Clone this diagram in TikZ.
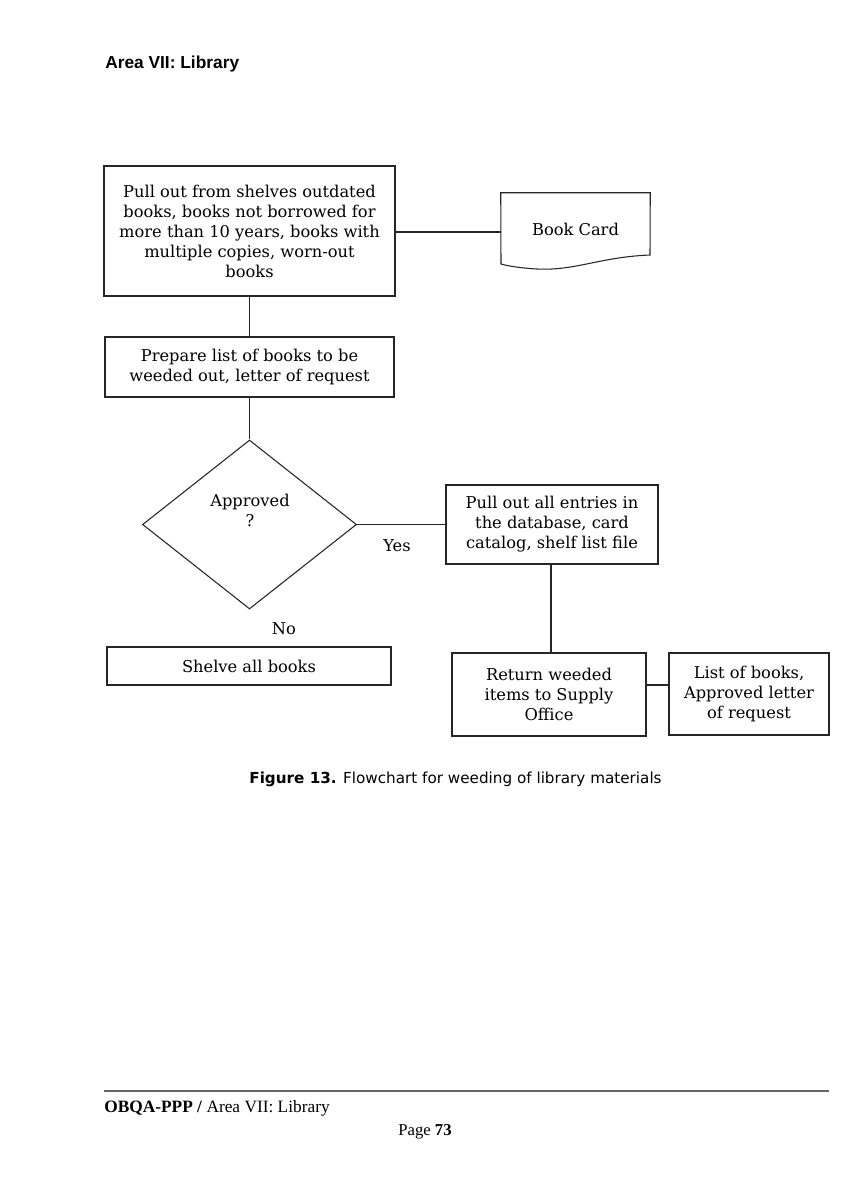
\documentclass[tikz,border=0pt]{standalone}
\usepackage{fontspec}
\setmainfont{DejaVu Serif}
\newfontfamily\headfont{Liberation Sans}
\newfontfamily\capfont{DejaVu Sans}
\newfontfamily\footfont{Liberation Serif}
\usetikzlibrary{shapes.geometric}

\begin{document}
\begin{tikzpicture}[x=0.75pt,y=-0.75pt,
  line/.style={draw=black!85, line width=0.8pt},
  body/.style={font=\fontsize{12.2}{15}\selectfont, align=center},
  box/.style={line, body, rectangle, inner sep=0pt},
  plain/.style={body, inner sep=0pt}
]
% page frame
\useasboundingbox[fill=white] (0,0) rectangle (860,1200);

% running header
\node[anchor=base west, inner sep=0pt, font=\headfont\bfseries\fontsize{13}{15}\selectfont] (head) at (105,68) {Area VII: Library};

% process boxes
\node[box, minimum width=218.25pt, minimum height=97.5pt] (pull) at (249.5,231)
  {Pull out from shelves outdated\\books, books not borrowed for\\more than 10 years, books with\\multiple copies, worn-out\\books};
\node[box, minimum width=216.75pt, minimum height=45pt] (list) at (249.5,367)
  {Prepare list of books to be\\weeded out, letter of request};
\node[box, minimum width=159pt, minimum height=59.25pt] (entries) at (552,524.5)
  {Pull out all entries in\\the database, card\\catalog, shelf list file};
\node[box, minimum width=145.5pt, minimum height=62.25pt] (return) at (549,694.5)
  {Return weeded\\items to Supply\\Office};
\node[box, minimum width=120pt, minimum height=61.5pt] (docs) at (749,694)
  {List of books,\\Approved letter\\of request};
\node[box, minimum width=213pt, minimum height=28.5pt] (shelve) at (249,666)
  {Shelve all books};

% document symbol
\node[plain, minimum width=111.75pt, minimum height=54pt] (card) at (575.5,229) {Book Card};
\draw[line] (card.north west) -- (card.north east) -- (650,255)
  .. controls (600,257) and (575,271) .. (537,269)
  .. controls (520,268) and (508,266) .. (501,264) -- cycle;

% decision
\node[line, diamond, inner sep=0pt, minimum width=160.5pt, minimum height=126.75pt] (ok) at (249.5,524.5) {};
\node[plain] (oktext) at (250,510) {Approved\\?};

% connectors
\draw[line] (pull.east |- 0,232) -- (card.west |- 0,232);
\draw[line] (pull.south) -- (list.north);
\draw[line] (list.south) -- (ok.north);
\draw[line] (ok.east) -- (entries.west |- ok.east);
\draw[line] (entries.south -| 551,0) -- (return.north -| 551,0);
\draw[line] (return.east |- 0,685) -- (docs.west |- 0,685);

% branch labels
\node[plain, anchor=base] (yes) at (397,551) {Yes};
\node[plain, anchor=base] (no) at (284,634) {No};

% caption
\node[anchor=base, inner sep=0pt, font=\capfont\fontsize{11.4}{13}\selectfont] (caption) at (455.5,783)
  {\textbf{Figure 13.} Flowchart for weeding of library materials};

% running footer
\draw[black!60, line width=1.6pt] (104,1091) -- (829,1091);
\node[anchor=base west, inner sep=0pt, font=\footfont\fontsize{13}{15}\selectfont] (foot) at (104,1112)
  {\textbf{OBQA-PPP /} Area VII: Library};
\node[anchor=base, inner sep=0pt, font=\footfont\fontsize{12.5}{14}\selectfont] (page) at (425,1135)
  {Page \textbf{73}};
\end{tikzpicture}
\end{document}
